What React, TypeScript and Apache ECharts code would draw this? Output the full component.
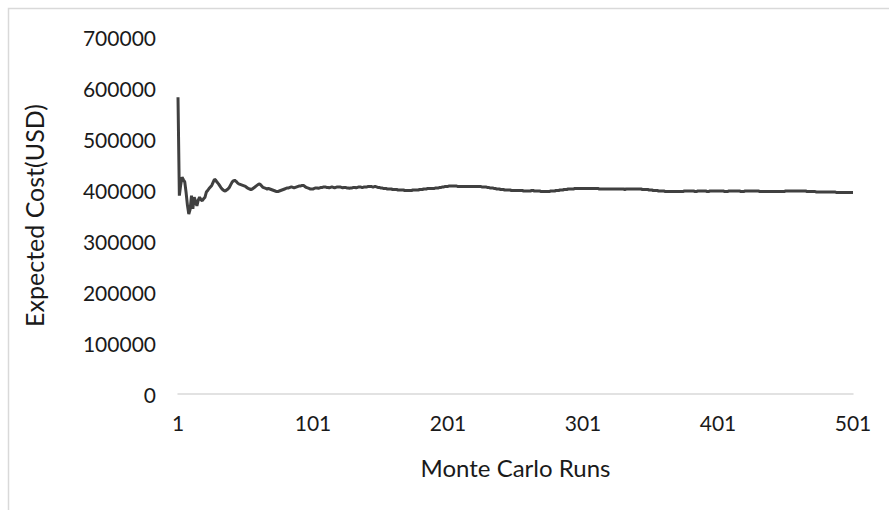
import React, { useEffect, useRef } from "react";
import * as echarts from "echarts";

const runs: string[] = Array.from({ length: 501 }, (_, i) => String(i + 1));

const expectedCost: number[] = [
  582000, 389000, 410000, 425000, 420000, 416000, 395000, 370000, 353000, 362000, 389000, 363000, 386000, 378000, 369000, 380000, 386000, 381000, 379000, 383000,
  386000, 396000, 399000, 403000, 406000, 409000, 415000, 421000, 419000, 415000, 412000, 408000, 404000, 401000, 399000, 398000, 400000, 402000, 405000, 410000,
  415000, 418000, 419000, 417000, 414000, 412000, 411000, 410000, 409000, 408000, 407000, 405000, 403000, 402000, 401000, 402000, 404000, 406000, 408000, 410000,
  412000, 411000, 408000, 405000, 404000, 403000, 402000, 403000, 402000, 401000, 400000, 399000, 398000, 397000, 397000, 398000, 399000, 400000, 401000, 402000,
  403000, 404000, 404000, 405000, 406000, 405000, 404000, 405000, 406000, 407000, 408000, 408000, 409000, 409000, 407000, 405000, 404000, 403000, 402000, 402000,
  402000, 403000, 404000, 404000, 403000, 404000, 405000, 405000, 406000, 406000, 405000, 405000, 404000, 405000, 406000, 405000, 404000, 405000, 406000, 406000,
  406000, 405000, 404000, 405000, 405000, 404000, 404000, 403000, 404000, 404000, 405000, 405000, 404000, 405000, 406000, 406000, 405000, 405000, 406000, 406000,
  406000, 407000, 407000, 407000, 406000, 406000, 407000, 406000, 405000, 405000, 404000, 404000, 403000, 403000, 403000, 402000, 402000, 402000, 402000, 401000,
  401000, 401000, 401000, 400000, 400000, 400000, 400000, 400000, 399000, 399000, 399000, 399000, 399000, 399000, 400000, 400000, 400000, 400000, 400000, 401000,
  401000, 401000, 402000, 402000, 402000, 403000, 403000, 403000, 403000, 403000, 403000, 404000, 404000, 404000, 405000, 405000, 406000, 406000, 407000, 407000,
  407000, 408000, 408000, 408000, 408000, 408000, 408000, 407000, 407000, 407000, 407000, 407000, 407000, 407000, 407000, 407000, 407000, 407000, 407000, 407000,
  407000, 407000, 407000, 407000, 407000, 406000, 406000, 406000, 406000, 405000, 405000, 404000, 404000, 404000, 403000, 403000, 402000, 402000, 402000, 401000,
  401000, 401000, 400000, 400000, 400000, 400000, 400000, 399000, 399000, 399000, 399000, 399000, 399000, 399000, 399000, 399000, 398000, 398000, 398000, 398000,
  398000, 398000, 399000, 399000, 398000, 398000, 398000, 398000, 398000, 397000, 397000, 397000, 397000, 397000, 397000, 397000, 398000, 398000, 398000, 398000,
  399000, 399000, 399000, 400000, 400000, 400000, 401000, 401000, 401000, 402000, 402000, 402000, 402000, 402000, 403000, 403000, 403000, 403000, 403000, 403000,
  403000, 403000, 403000, 403000, 403000, 403000, 403000, 403000, 403000, 403000, 403000, 403000, 402000, 402000, 402000, 402000, 402000, 402000, 402000, 402000,
  402000, 402000, 402000, 402000, 402000, 402000, 402000, 402000, 402000, 402000, 402000, 401000, 402000, 402000, 402000, 402000, 402000, 402000, 402000, 402000,
  402000, 402000, 402000, 402000, 401000, 401000, 401000, 401000, 401000, 400000, 400000, 400000, 399000, 399000, 399000, 399000, 398000, 398000, 398000, 398000,
  398000, 397000, 397000, 397000, 397000, 397000, 397000, 397000, 397000, 397000, 397000, 397000, 397000, 397000, 397000, 398000, 398000, 398000, 398000, 398000,
  398000, 398000, 398000, 397000, 397000, 398000, 398000, 398000, 398000, 398000, 398000, 398000, 397000, 397000, 398000, 398000, 398000, 398000, 398000, 398000,
  398000, 398000, 398000, 398000, 398000, 397000, 397000, 397000, 398000, 398000, 398000, 398000, 398000, 398000, 398000, 398000, 398000, 397000, 397000, 397000,
  398000, 398000, 398000, 398000, 398000, 398000, 398000, 398000, 398000, 398000, 398000, 397000, 397000, 397000, 397000, 397000, 397000, 397000, 397000, 397000,
  397000, 397000, 397000, 397000, 397000, 397000, 397000, 397000, 397000, 397000, 398000, 398000, 398000, 398000, 398000, 398000, 398000, 398000, 398000, 398000,
  398000, 398000, 398000, 398000, 398000, 398000, 397000, 397000, 397000, 397000, 397000, 397000, 397000, 396000, 396000, 396000, 396000, 396000, 396000, 396000,
  396000, 396000, 396000, 396000, 396000, 396000, 396000, 396000, 395000, 395000, 395000, 395000, 395000, 395000, 395000, 395000, 395000, 395000, 395000, 395000,
  395000,
];

const yTicks = { min: 0, max: 700000, interval: 100000 };
const xLabelEvery = 100;

const FONT = "Lato, 'Noto Sans', sans-serif";

export default function App() {
  const ref = useRef<HTMLDivElement>(null);

  useEffect(() => {
    if (!ref.current) return;
    const chart = echarts.init(ref.current, null, { renderer: "svg" });
    chart.setOption({
      animation: false,
      backgroundColor: "#ffffff",
      graphic: [
        {
          type: "rect",
          shape: { x: 8.5, y: 8.5, width: 1000, height: 1000 },
          style: { fill: "none", stroke: "#d9d9d9", lineWidth: 1.5 },
          silent: true,
        },
      ],
      grid: { left: 178, right: 36, top: 37, bottom: 116, containLabel: false },
      xAxis: {
        type: "category",
        data: runs,
        boundaryGap: false,
        name: "Monte Carlo Runs",
        nameLocation: "middle",
        nameGap: 61,
        nameTextStyle: { fontFamily: FONT, fontSize: 24, color: "#1a1a1a" },
        axisLine: { show: true, lineStyle: { color: "#d9d9d9", width: 1.5 } },
        axisTick: { show: false },
        axisLabel: {
          interval: xLabelEvery - 1,
          fontFamily: FONT,
          fontSize: 21,
          color: "#1a1a1a",
          margin: 18,
        },
        splitLine: { show: false },
      },
      yAxis: {
        type: "value",
        min: yTicks.min,
        max: yTicks.max,
        interval: yTicks.interval,
        name: "Expected Cost(USD)",
        nameLocation: "middle",
        nameGap: 132,
        nameTextStyle: { fontFamily: FONT, fontSize: 25, color: "#1a1a1a" },
        axisLine: { show: false },
        axisTick: { show: false },
        axisLabel: {
          fontFamily: FONT,
          fontSize: 21,
          color: "#1a1a1a",
          margin: 22,
          formatter: (v: number) => String(v),
        },
        splitLine: { show: false },
      },
      series: [
        {
          type: "line",
          data: expectedCost,
          showSymbol: false,
          symbol: "none",
          lineStyle: { color: "#404040", width: 3 },
          smooth: false,
        },
      ],
    });
    return () => chart.dispose();
  }, []);

  return (
    <div
      ref={ref}
      style={{ position: "fixed", left: 0, top: 0, width: 889, height: 510 }}
    />
  );
}
